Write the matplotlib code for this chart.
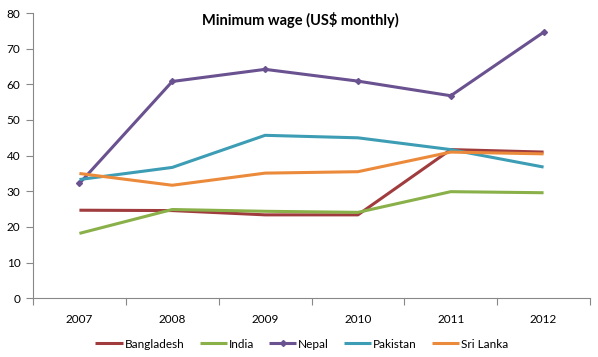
import matplotlib.pyplot as plt
import numpy as np

years = ["2007", "2008", "2009", "2010", "2011", "2012"]
bangladesh = [24.7, 24.6, 23.4, 23.4, 41.7, 41.0]
india = [18.2, 24.9, 24.4, 24.1, 29.9, 29.6]
nepal = [32.2, 60.8, 64.2, 60.9, 56.8, 74.6]
pakistan = [33.3, 36.7, 45.7, 45.0, 41.7, 36.8]
sri_lanka = [35.0, 31.7, 35.1, 35.5, 41.0, 40.5]

series = [
    ("Bangladesh", bangladesh, "#A03C3E", None),
    ("India", india, "#8AB04A", None),
    ("Nepal", nepal, "#6A5190", "D"),
    ("Pakistan", pakistan, "#3C9DB5", None),
    ("Sri Lanka", sri_lanka, "#EC8A3C", None),
]

plt.rcParams['font.family'] = ['Lato', 'DejaVu Sans']

fig = plt.figure(figsize=(5.98, 3.57), dpi=100)
ax = fig.add_axes([33 / 598, 1 - 298.3 / 357, (590 - 33) / 598, (298.3 - 13) / 357])

x = np.arange(len(years))
for name, vals, color, marker in series:
    ax.plot(x, vals, color=color, lw=2.2, label=name,
            marker=marker, markersize=3 if marker else 0,
            solid_capstyle='butt')

ax.set_xlim(-0.5, len(years) - 0.5)
ax.set_ylim(0, 80)
ax.set_yticks(range(0, 81, 10))
ax.set_xticks(np.arange(-0.5, len(years), 1.0))
ax.set_xticklabels([])
ax.set_xticks(x, minor=True)
ax.set_xticklabels(years, minor=True)
ax.tick_params(axis='x', which='minor', length=0, pad=11, labelsize=8.5)
ax.tick_params(axis='x', which='major', length=5, direction='out', color='#888888')
ax.tick_params(axis='y', length=5, direction='out', color='#888888', labelsize=8.5, pad=4)

for side in ['top', 'right']:
    ax.spines[side].set_visible(False)
for side in ['left', 'bottom']:
    ax.spines[side].set_color('#888888')

fig.text(0.503, 1 - 20 / 357, "Minimum wage (US$ monthly)", ha='center', va='center',
         fontsize=10.5, fontweight='bold')

fig.legend(loc='center', bbox_to_anchor=(0.505, 1 - 344 / 357), ncol=5, frameon=False,
           fontsize=8.5, handlelength=2.3, handletextpad=0.15, columnspacing=1.3)

fig.savefig("out.png", dpi=100)
